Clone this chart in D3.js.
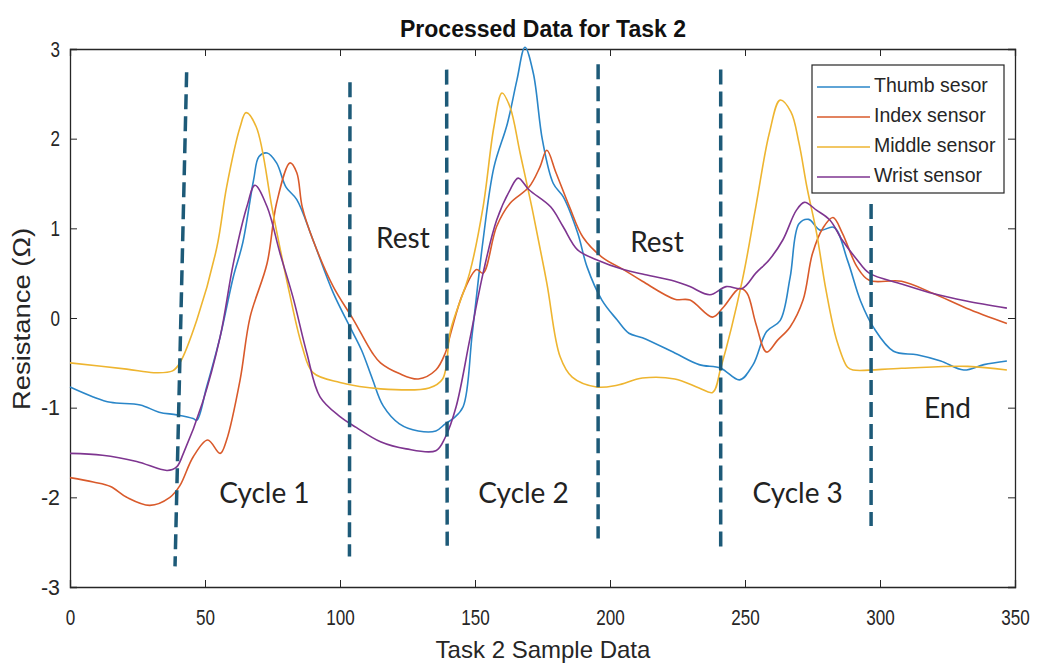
<!DOCTYPE html>
<html>
<head>
<meta charset="utf-8">
<script src="https://cdn.jsdelivr.net/npm/d3@7"></script>
<style>
  body { margin: 0; background: #fff; }
  text { font-family: "Liberation Sans", Arial, sans-serif; fill: #262626; }
</style>
</head>
<body>
<div id="chart"></div>
<script>
// sensor readings, [sample, resistance]
var thumb = [[0,-0.77],[8.6,-0.88],[15,-0.94],[26,-0.97],[33,-1.05],[39.5,-1.08],[45.6,-1.12],[47,-1.14],
  [50.6,-0.77],[55.6,-0.21],[60.5,0.46],[64,0.84],[68,1.54],[70,1.8],[73,1.84],[76.5,1.73],[80,1.46],[84,1.32],
  [90,0.87],[97.5,0.28],[103.7,-0.1],[108,-0.36],[112,-0.68],[116,-0.98],[122,-1.18],[129,-1.26],[135.5,-1.26],
  [139,-1.18],[142,-1.12],[145.6,-0.99],[149,-0.17],[153,0.87],[157,1.68],[162,2.17],[165.5,2.65],[168.5,3.02],
  [171.6,2.73],[175,1.98],[179,1.5],[182.7,1.35],[188,0.95],[191.5,0.57],[197,0.2],[202.6,-0.02],[207,-0.17],
  [212,-0.22],[224,-0.39],[233,-0.52],[241,-0.56],[248,-0.69],[253,-0.52],[258,-0.15],[263,-0.03],[266.7,0.45],
  [270,1.05],[273.6,1.1],[277.8,0.98],[283,1.01],[288,0.64],[292.8,0.19],[297.7,-0.11],[305,-0.37],[313.7,-0.41],
  [322.5,-0.48],[331,-0.58],[338.5,-0.52],[347,-0.48]];
var index = [[0,-1.78],[8.6,-1.83],[15,-1.88],[21,-2.0],[29.6,-2.09],[37,-2.0],[40.7,-1.87],[45.6,-1.55],[51,-1.36],
  [55.6,-1.51],[58,-1.36],[63,-0.69],[66.7,0.01],[73,0.61],[76.5,1.28],[81.5,1.73],[84,1.62],[86,1.24],[90,0.87],
  [97.5,0.35],[105,-0.02],[112,-0.39],[115,-0.5],[122,-0.62],[129,-0.68],[135.5,-0.58],[139,-0.39],[141,-0.17],
  [145.6,0.28],[150.6,0.54],[153,0.5],[158,1.02],[163,1.28],[170,1.46],[174,1.68],[176.6,1.87],[180,1.62],
  [185,1.24],[190,0.9],[197,0.68],[205,0.54],[212,0.41],[224,0.21],[229.6,0.2],[238,0.01],[242,0.12],[248,0.33],
  [250.7,0.28],[254,-0.06],[258,-0.38],[262,-0.25],[266.7,-0.1],[271.5,0.2],[275,0.72],[279,1.01],[282.6,1.12],
  [286,0.95],[291.5,0.57],[296,0.42],[308,0.41],[320,0.27],[332,0.11],[347,-0.06]];
var middle = [[0,-0.5],[21,-0.57],[31,-0.61],[38,-0.59],[40.7,-0.5],[47,-0.02],[54.4,0.79],[58,1.46],[63,2.13],
  [65.2,2.29],[69,2.13],[75,1.2],[80,0.46],[86,-0.32],[90,-0.61],[100,-0.72],[115,-0.79],[133,-0.78],[138,-0.68],
  [141,-0.13],[148,0.5],[153,1.24],[157,2.13],[160,2.51],[163,2.35],[166.7,1.84],[171.5,1.17],[176.6,0.39],
  [181.5,-0.43],[186,-0.66],[195,-0.77],[202.6,-0.75],[212,-0.67],[224,-0.68],[233,-0.78],[238,-0.83],[241,-0.56],
  [249,0.42],[254,1.24],[259,2.06],[263,2.43],[267,2.3],[270,1.95],[273,1.45],[276.5,0.95],[280,0.31],[284,-0.25],
  [288,-0.55],[290,-0.58],[308,-0.56],[332.5,-0.54],[347,-0.58]];
var wrist = [[0,-1.51],[12,-1.53],[24.7,-1.6],[36,-1.7],[39.5,-1.66],[42,-1.51],[49,-0.95],[55.6,-0.21],[60.5,0.61],
  [65.5,1.24],[68.5,1.48],[73,1.24],[77.8,0.72],[82.6,0.23],[87.7,-0.39],[92.6,-0.88],[100,-1.1],[106,-1.22],
  [115,-1.38],[124.5,-1.46],[135.5,-1.48],[139,-1.33],[143,-0.99],[148,-0.25],[153,0.5],[158,1.09],[163,1.43],
  [166,1.56],[170,1.43],[178,1.24],[182.6,1.02],[188,0.76],[195,0.65],[205,0.54],[212,0.49],[224,0.41],
  [229.6,0.35],[237,0.26],[243,0.35],[249,0.33],[254,0.5],[259,0.65],[264,0.87],[269,1.2],[272,1.29],
  [276.6,1.2],[281.5,1.09],[286,0.87],[291.5,0.65],[296,0.5],[308,0.38],[320,0.27],[332,0.19],[347,0.11]];

var seriesNames = ["Thumb sesor", "Index sensor", "Middle sensor", "Wrist sensor"];
var seriesData = [thumb, index, middle, wrist];
var seriesColors = ["#2a86c8", "#d95a2b", "#eeb530", "#7e3590"];

// cycle boundaries (slightly slanted as drawn), [x top, y top, x bottom, y bottom]
var dividers = [[43.2,2.74,38.9,-2.77],[103.7,2.63,103.5,-2.66],[139.5,2.77,139.7,-2.54],
  [195.6,2.83,195.6,-2.46],[241,2.77,241,-2.56],[296.7,1.27,296.7,-2.32]];
var phaseLabels = ["Cycle 1", "Rest", "Cycle 2", "Rest", "Cycle 3", "End"];
var phasePos = [[72,-1.98],[123.3,0.86],[168,-1.98],[217.4,0.82],[269.5,-1.98],[325,-1.04]];

var xTicks = [0,50,100,150,200,250,300,350];
var yTicks = [-3,-2,-1,0,1,2,3];

var W = 1039, H = 666;
var pLeft = 70, pRight = 1015, pTop = 49, pBottom = 587;

var svg = d3.select("#chart").append("svg").attr("width", W).attr("height", H)

var x = d3.scaleLinear().domain([0,350]).range([pLeft,pRight])
var y = d3.scaleLinear().domain([-3,3]).range([pBottom,pTop])

var line = d3.line()
  .x(function(d){ return x(d[0]); })
  .y(function(d){ return y(d[1]); })
  .curve(d3.curveCatmullRom.alpha(0.5))

// axes, MATLAB box style with inward ticks
svg.append("g").attr("transform","translate(0,"+pBottom+")")
  .call(d3.axisBottom(x).tickValues(xTicks).tickSize(-7).tickPadding(22))
svg.append("g").attr("transform","translate(0,"+pTop+")")
  .call(d3.axisTop(x).tickValues(xTicks).tickSize(-7).tickFormat(""))
svg.append("g").attr("transform","translate("+pLeft+",0)")
  .call(d3.axisLeft(y).tickValues(yTicks).tickSize(-7).tickPadding(10)
    .tickFormat(function(d){ return String(d); }))
svg.append("g").attr("transform","translate("+pRight+",0)")
  .call(d3.axisRight(y).tickValues(yTicks).tickSize(-7).tickFormat(""))
svg.selectAll(".domain").attr("stroke","#262626").attr("stroke-width",1.3)
svg.selectAll(".tick line").attr("stroke","#262626")
svg.selectAll(".tick text").style("font-size","22px").attr("fill","#262626")
  .attr("lengthAdjust","spacingAndGlyphs")
  .attr("textLength", function(){ return this.textContent.length*9.5; })

// series
svg.selectAll(".series").data(seriesData).enter()
  .append("path")
  .attr("class","series")
  .attr("d", line)
  .attr("fill","none")
  .attr("stroke-width",1.6)
  .attr("stroke", function(d,i){ return seriesColors[i]; })

// dashed cycle boundaries
svg.selectAll(".divider").data(dividers).enter()
  .append("line")
  .attr("x1", function(d){ return x(d[0]); })
  .attr("y1", function(d){ return y(d[1]); })
  .attr("x2", function(d){ return x(d[2]); })
  .attr("y2", function(d){ return y(d[3]); })
  .attr("stroke","#1d5a78")
  .attr("stroke-width",3.5)
  .attr("stroke-dasharray","15,7")

svg.selectAll(".phase").data(phaseLabels).enter()
  .append("text")
  .attr("x", function(d,i){ return x(phasePos[i][0]); })
  .attr("y", function(d,i){ return y(phasePos[i][1]); })
  .attr("text-anchor","middle")
  .attr("dominant-baseline","middle")
  .style("font-family","Lato, 'Open Sans', sans-serif")
  .style("font-size","28px")
  .style("fill","#222")
  .text(function(d){ return d; })

// legend
var lg = svg.append("g")
lg.append("rect").attr("x",812).attr("y",65).attr("width",192).attr("height",128)
  .attr("fill","#fff").attr("stroke","#262626").attr("stroke-width",1.2)
seriesNames.forEach(function(n,i){
  var ly = 87 + i*30
  lg.append("line").attr("x1",817).attr("x2",870).attr("y1",ly).attr("y2",ly)
    .attr("stroke",seriesColors[i]).attr("stroke-width",1.6)
  lg.append("text").attr("x",874).attr("y",ly).attr("dominant-baseline","middle")
    .style("font-size","19.5px").text(n)
})

// titles
svg.append("text").attr("x",543).attr("y",37).attr("text-anchor","middle")
  .style("font-size","23px").style("font-weight","bold").style("fill","#111")
  .text("Processed Data for Task 2")
svg.append("text").attr("x",543).attr("y",658).attr("text-anchor","middle")
  .style("font-size","24px").text("Task 2 Sample Data")
svg.append("text").attr("transform","translate(30,319) rotate(-90)").attr("text-anchor","middle")
  .style("font-size","23px")
  .attr("lengthAdjust","spacingAndGlyphs").attr("textLength",182)
  .text("Resistance (\u03A9)")
</script>
</body>
</html>
